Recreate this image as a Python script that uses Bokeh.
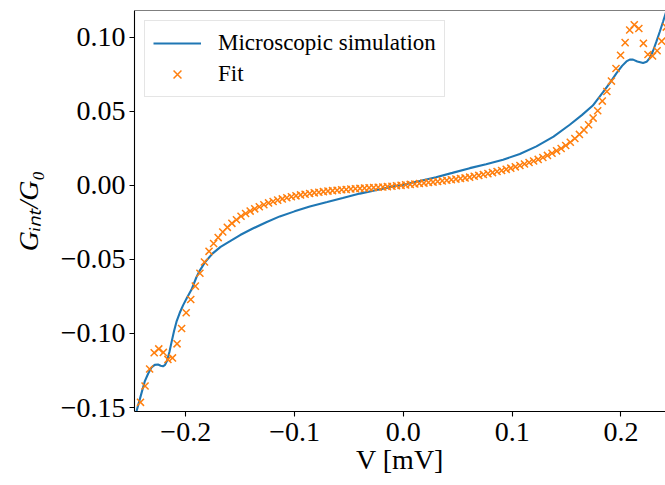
import numpy as np
from bokeh.plotting import figure
from bokeh.models import (FixedTicker, CustomJSTickFormatter, Span,
                          Legend, LegendItem, Range1d)
from bokeh.embed import file_html
from bokeh.resources import INLINE

# ---------------- data ----------------
sim_v = [-0.2500, -0.2453, -0.2415, -0.2377, -0.2345, -0.2315, -0.2285, -0.2255,
         -0.2230, -0.2209, -0.2190, -0.2172, -0.2150, -0.2131, -0.2108, -0.2085,
         -0.2055, -0.2025, -0.1990, -0.1948, -0.1902, -0.1871, -0.1820, -0.1752,
         -0.1680, -0.1596, -0.1500, -0.1384, -0.1260, -0.1136, -0.1000, -0.0860,
         -0.0700, -0.0557, -0.0400, -0.0244, -0.0100, 0.0000, 0.0150, 0.0300,
         0.0450, 0.0610, 0.0760, 0.0916, 0.1070, 0.1223, 0.1380, 0.1529,
         0.1640, 0.1741, 0.1835, 0.1900, 0.1959, 0.2010, 0.2050, 0.2080,
         0.2111, 0.2150, 0.2203, 0.2235, 0.2265, 0.2295, 0.2326, 0.2357,
         0.2387, 0.2420, 0.2450, 0.2500]
sim_g = [-0.1650, -0.1527, -0.1425, -0.1324, -0.1270, -0.1230, -0.1212, -0.1210,
         -0.1218, -0.1222, -0.1212, -0.1185, -0.1125, -0.1060, -0.0985, -0.0920,
         -0.0860, -0.0810, -0.0760, -0.0705, -0.0620, -0.0575, -0.0515, -0.0459,
         -0.0415, -0.0378, -0.0335, -0.0291, -0.0248, -0.0209, -0.0175, -0.0142,
         -0.0112, -0.0085, -0.0055, -0.0030, -0.0008, 0.0005, 0.0030, 0.0056,
         0.0085, 0.0117, 0.0143, 0.0174, 0.0213, 0.0264, 0.0330, 0.0410,
         0.0475, 0.0540, 0.0630, 0.0695, 0.0759, 0.0808, 0.0838, 0.0850,
         0.0850, 0.0838, 0.0827, 0.0835, 0.0861, 0.0910, 0.0973, 0.1040,
         0.1108, 0.1185, 0.1255, 0.1370]

fit_v = [-0.2500, -0.2458, -0.2416, -0.2374, -0.2332, -0.2290, -0.2248, -0.2206,
         -0.2164, -0.2122, -0.2080, -0.2038, -0.1996, -0.1954, -0.1912, -0.1870,
         -0.1828, -0.1786, -0.1744, -0.1702, -0.1660, -0.1618, -0.1576, -0.1534,
         -0.1492, -0.1450, -0.1408, -0.1366, -0.1324, -0.1282, -0.1239, -0.1197,
         -0.1155, -0.1113, -0.1071, -0.1029, -0.0987, -0.0945, -0.0903, -0.0861,
         -0.0819, -0.0777, -0.0735, -0.0693, -0.0651, -0.0609, -0.0567, -0.0525,
         -0.0483, -0.0441, -0.0399, -0.0357, -0.0315, -0.0273, -0.0231, -0.0189,
         -0.0147, -0.0105, -0.0063, -0.0021, 0.0021, 0.0063, 0.0105, 0.0147,
         0.0189, 0.0231, 0.0273, 0.0315, 0.0357, 0.0399, 0.0441, 0.0483,
         0.0525, 0.0567, 0.0609, 0.0651, 0.0693, 0.0735, 0.0777, 0.0819,
         0.0861, 0.0903, 0.0945, 0.0987, 0.1029, 0.1071, 0.1113, 0.1155,
         0.1197, 0.1239, 0.1282, 0.1324, 0.1366, 0.1408, 0.1450, 0.1492,
         0.1534, 0.1576, 0.1618, 0.1660, 0.1702, 0.1744, 0.1786, 0.1828,
         0.1870, 0.1912, 0.1954, 0.1996, 0.2038, 0.2080, 0.2122, 0.2164,
         0.2206, 0.2248, 0.2290, 0.2332, 0.2374, 0.2416, 0.2458, 0.2500]
fit_g = [-0.1690, -0.1580, -0.1465, -0.1355, -0.1240, -0.1130, -0.1104, -0.1128,
         -0.1175, -0.1165, -0.1070, -0.0966, -0.0860, -0.0770, -0.0680, -0.0593,
         -0.0517, -0.0445, -0.0392, -0.0352, -0.0314, -0.0283, -0.0256, -0.0232,
         -0.0208, -0.0189, -0.0173, -0.0158, -0.0144, -0.0130, -0.0118, -0.0108,
         -0.0099, -0.0091, -0.0083, -0.0076, -0.0070, -0.0064, -0.0059, -0.0054,
         -0.0050, -0.0046, -0.0042, -0.0038, -0.0035, -0.0032, -0.0029, -0.0027,
         -0.0024, -0.0022, -0.0020, -0.0018, -0.0016, -0.0014, -0.0012, -0.0010,
         -0.0008, -0.0005, -0.0002, 0.0001, 0.0004, 0.0007, 0.0010, 0.0013,
         0.0016, 0.0020, 0.0023, 0.0027, 0.0031, 0.0035, 0.0039, 0.0043,
         0.0047, 0.0051, 0.0056, 0.0062, 0.0068, 0.0074, 0.0080, 0.0087,
         0.0094, 0.0101, 0.0109, 0.0117, 0.0126, 0.0135, 0.0145, 0.0155,
         0.0165, 0.0176, 0.0189, 0.0203, 0.0218, 0.0234, 0.0250, 0.0270,
         0.0292, 0.0317, 0.0345, 0.0375, 0.0410, 0.0455, 0.0505, 0.0570,
         0.0635, 0.0705, 0.0790, 0.0880, 0.0965, 0.1050, 0.1085, 0.1060,
         0.0960, 0.0885, 0.0875, 0.0910, 0.0975, 0.1070, 0.1180, 0.1300]

x_ticks = [-0.2, -0.1, 0.0, 0.1, 0.2]
x_tick_labels = ["\u22120.2", "\u22120.1", "0.0", "0.1", "0.2"]
y_ticks = [-0.15, -0.10, -0.05, 0.0, 0.05, 0.10]
y_tick_labels = ["\u22120.15", "\u22120.10", "\u22120.05", "0.00", "0.05", "0.10"]
series_names = ["Microscopic simulation", "Fit"]
x_label = "V [mV]"
y_label = "G\u1d62\u2099\u209c/G\u2080"

# ---------------- figure ----------------
FONT = "Liberation Serif"
X0, X1 = -0.2471, 0.2409
Y0, Y1 = -0.1527, 0.1182

p = figure(width=665, height=485, output_backend="svg", toolbar_location=None,
           x_range=Range1d(X0, X1), y_range=Range1d(Y0, Y1),
           min_border_left=134, min_border_right=0, min_border_top=10,
           min_border_bottom=74)
p.outline_line_color = None
p.grid.visible = False
p.background_fill_color = "white"
p.border_fill_color = "white"

fmt_code = """
const i = tvals.findIndex(t => Math.abs(t - tick) < 1e-9);
return i >= 0 ? tlabels[i] : "";
"""
p.xaxis.ticker = FixedTicker(ticks=x_ticks)
p.xaxis.formatter = CustomJSTickFormatter(args=dict(tvals=x_ticks, tlabels=x_tick_labels), code=fmt_code)
p.yaxis.ticker = FixedTicker(ticks=y_ticks)
p.yaxis.formatter = CustomJSTickFormatter(args=dict(tvals=y_ticks, tlabels=y_tick_labels), code=fmt_code)

for ax in (p.xaxis[0], p.yaxis[0]):
    ax.axis_line_color = "black"
    ax.axis_line_width = 1.1
    ax.major_tick_line_color = "black"
    ax.major_tick_line_width = 1.1
    ax.major_tick_out = 5
    ax.major_tick_in = 0
    ax.minor_tick_line_color = None
    ax.major_label_text_font = FONT
    ax.major_label_text_font_size = "28px"
    ax.major_label_text_color = "black"
    ax.axis_label_text_font = FONT
    ax.axis_label_text_font_size = "28px"
    ax.axis_label_text_color = "black"
p.xaxis.major_label_standoff = 6
p.yaxis.major_label_standoff = 4

p.xaxis.axis_label = x_label
p.xaxis.axis_label_text_font_style = "normal"
p.xaxis.axis_label_standoff = 0
p.yaxis.axis_label = y_label
p.yaxis.axis_label_text_font_style = "italic"
p.yaxis.axis_label_standoff = 14

# top spine
p.add_layout(Span(location=Y1, dimension="width", line_color="black", line_width=1.1))

# ---------------- glyphs ----------------
r_sim = p.line(sim_v, sim_g, line_color="#1f77b4", line_width=2.1)
r_fit = p.scatter(fit_v, fit_g, marker="x", size=10, line_color="#ff7f0e", line_width=1.5)

legend = Legend(items=[LegendItem(label=series_names[0], renderers=[r_sim]),
                       LegendItem(label=series_names[1], renderers=[r_fit])],
                location="top_left", margin=10, padding=8, spacing=3,
                glyph_width=48, glyph_height=28, label_height=28, label_standoff=17,
                label_text_font=FONT, label_text_font_size="23px",
                label_text_color="black",
                border_line_color="#cccccc", border_line_width=1,
                background_fill_color="white", background_fill_alpha=0.8)
p.add_layout(legend)

open("out.html", "w").write(file_html(p, INLINE))
